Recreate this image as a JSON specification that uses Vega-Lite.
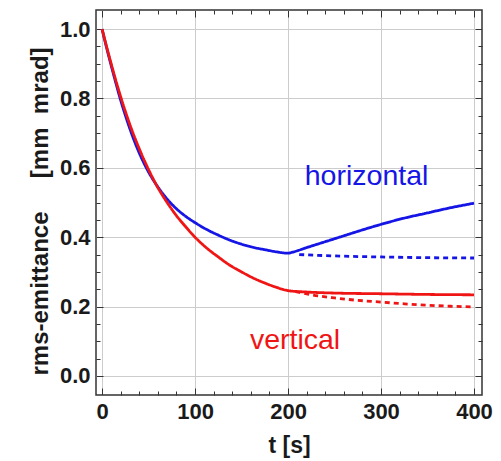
{
  "$schema": "https://vega.github.io/schema/vega-lite/v6.json",
  "width": 386,
  "height": 385,
  "autosize": "none",
  "padding": {"left": 96, "top": 10, "right": 19, "bottom": 66},
  "background": "white",
  "config": {
    "view": {"stroke": "#333333", "strokeWidth": 1.5},
    "font": "Liberation Sans"
  },
  "datasets": {
    "curves": [
      {"t": 0, "v": 1.0, "dir": "h", "style": "solid"},
      {"t": 5, "v": 0.945, "dir": "h", "style": "solid"},
      {"t": 10, "v": 0.893, "dir": "h", "style": "solid"},
      {"t": 15, "v": 0.843, "dir": "h", "style": "solid"},
      {"t": 20, "v": 0.795, "dir": "h", "style": "solid"},
      {"t": 25, "v": 0.752, "dir": "h", "style": "solid"},
      {"t": 30, "v": 0.712, "dir": "h", "style": "solid"},
      {"t": 40, "v": 0.643, "dir": "h", "style": "solid"},
      {"t": 50, "v": 0.588, "dir": "h", "style": "solid"},
      {"t": 60, "v": 0.545, "dir": "h", "style": "solid"},
      {"t": 70, "v": 0.51, "dir": "h", "style": "solid"},
      {"t": 80, "v": 0.482, "dir": "h", "style": "solid"},
      {"t": 90, "v": 0.46, "dir": "h", "style": "solid"},
      {"t": 100, "v": 0.442, "dir": "h", "style": "solid"},
      {"t": 112, "v": 0.423, "dir": "h", "style": "solid"},
      {"t": 125, "v": 0.406, "dir": "h", "style": "solid"},
      {"t": 137, "v": 0.392, "dir": "h", "style": "solid"},
      {"t": 150, "v": 0.38, "dir": "h", "style": "solid"},
      {"t": 162, "v": 0.371, "dir": "h", "style": "solid"},
      {"t": 175, "v": 0.364, "dir": "h", "style": "solid"},
      {"t": 187, "v": 0.358, "dir": "h", "style": "solid"},
      {"t": 200, "v": 0.354, "dir": "h", "style": "solid"},
      {"t": 205, "v": 0.357, "dir": "h", "style": "solid"},
      {"t": 220, "v": 0.37, "dir": "h", "style": "solid"},
      {"t": 240, "v": 0.387, "dir": "h", "style": "solid"},
      {"t": 260, "v": 0.404, "dir": "h", "style": "solid"},
      {"t": 280, "v": 0.421, "dir": "h", "style": "solid"},
      {"t": 300, "v": 0.437, "dir": "h", "style": "solid"},
      {"t": 325, "v": 0.455, "dir": "h", "style": "solid"},
      {"t": 350, "v": 0.47, "dir": "h", "style": "solid"},
      {"t": 375, "v": 0.485, "dir": "h", "style": "solid"},
      {"t": 400, "v": 0.498, "dir": "h", "style": "solid"},
      {"t": 212, "v": 0.35, "dir": "h", "style": "dashed"},
      {"t": 250, "v": 0.346, "dir": "h", "style": "dashed"},
      {"t": 300, "v": 0.343, "dir": "h", "style": "dashed"},
      {"t": 350, "v": 0.341, "dir": "h", "style": "dashed"},
      {"t": 400, "v": 0.34, "dir": "h", "style": "dashed"},
      {"t": 0, "v": 1.0, "dir": "v", "style": "solid"},
      {"t": 5, "v": 0.948, "dir": "v", "style": "solid"},
      {"t": 10, "v": 0.898, "dir": "v", "style": "solid"},
      {"t": 15, "v": 0.85, "dir": "v", "style": "solid"},
      {"t": 20, "v": 0.805, "dir": "v", "style": "solid"},
      {"t": 25, "v": 0.763, "dir": "v", "style": "solid"},
      {"t": 30, "v": 0.724, "dir": "v", "style": "solid"},
      {"t": 40, "v": 0.655, "dir": "v", "style": "solid"},
      {"t": 50, "v": 0.595, "dir": "v", "style": "solid"},
      {"t": 60, "v": 0.543, "dir": "v", "style": "solid"},
      {"t": 70, "v": 0.5, "dir": "v", "style": "solid"},
      {"t": 80, "v": 0.462, "dir": "v", "style": "solid"},
      {"t": 90, "v": 0.43, "dir": "v", "style": "solid"},
      {"t": 100, "v": 0.4, "dir": "v", "style": "solid"},
      {"t": 112, "v": 0.37, "dir": "v", "style": "solid"},
      {"t": 125, "v": 0.343, "dir": "v", "style": "solid"},
      {"t": 137, "v": 0.32, "dir": "v", "style": "solid"},
      {"t": 150, "v": 0.3, "dir": "v", "style": "solid"},
      {"t": 162, "v": 0.283, "dir": "v", "style": "solid"},
      {"t": 175, "v": 0.268, "dir": "v", "style": "solid"},
      {"t": 187, "v": 0.256, "dir": "v", "style": "solid"},
      {"t": 200, "v": 0.246, "dir": "v", "style": "solid"},
      {"t": 220, "v": 0.242, "dir": "v", "style": "solid"},
      {"t": 250, "v": 0.239, "dir": "v", "style": "solid"},
      {"t": 300, "v": 0.237, "dir": "v", "style": "solid"},
      {"t": 350, "v": 0.235, "dir": "v", "style": "solid"},
      {"t": 400, "v": 0.234, "dir": "v", "style": "solid"},
      {"t": 208, "v": 0.243, "dir": "v", "style": "dashed"},
      {"t": 225, "v": 0.234, "dir": "v", "style": "dashed"},
      {"t": 250, "v": 0.225, "dir": "v", "style": "dashed"},
      {"t": 275, "v": 0.218, "dir": "v", "style": "dashed"},
      {"t": 300, "v": 0.213, "dir": "v", "style": "dashed"},
      {"t": 325, "v": 0.208, "dir": "v", "style": "dashed"},
      {"t": 350, "v": 0.204, "dir": "v", "style": "dashed"},
      {"t": 375, "v": 0.201, "dir": "v", "style": "dashed"},
      {"t": 400, "v": 0.199, "dir": "v", "style": "dashed"}
    ],
    "labels": [
      {"t": 218, "v": 0.55, "dir": "h", "label": "horizontal"},
      {"t": 159, "v": 0.078, "dir": "v", "label": "vertical"}
    ]
  },
  "resolve": {"axis": {"x": "independent", "y": "independent"}},
  "layer": [
    {
      "data": {"name": "curves"},
      "mark": {"type": "line", "strokeWidth": 2.8, "interpolate": "monotone"},
      "encoding": {
        "x": {
          "field": "t", "type": "quantitative",
          "scale": {"domain": [-6.5, 408.6], "nice": false, "zero": false},
          "axis": {
            "orient": "bottom",
            "values": [0, 20, 40, 60, 80, 100, 120, 140, 160, 180, 200, 220, 240, 260, 280, 300, 320, 340, 360, 380, 400],
            "labelExpr": "datum.value % 100 === 0 ? datum.label : ''",
            "domain": false,
            "grid": true,
            "gridColor": "#cccccc",
            "gridWidth": 1,
            "gridOpacity": {"condition": {"test": "datum.value % 100 === 0", "value": 1}, "value": 0},
            "tickColor": "#333333",
            "tickWidth": 1,
            "tickSize": {"condition": {"test": "datum.value % 100 === 0", "value": -7}, "value": -4},
            "labelPadding": 13,
            "labelFont": "Liberation Sans",
            "labelFontSize": 22,
            "labelFontWeight": "bold",
            "labelColor": "#1a1a1a",
            "labelFlush": false,
            "labelOverlap": false,
            "title": "t [s]",
            "titleFont": "Liberation Sans",
            "titleFontSize": 23,
            "titleFontWeight": "bold",
            "titleColor": "#1a1a1a",
            "titlePadding": 9
          }
        },
        "y": {
          "field": "v", "type": "quantitative",
          "scale": {"domain": [-0.0548, 1.0548], "nice": false, "zero": false},
          "axis": {
            "orient": "left",
            "values": [0, 0.05, 0.1, 0.15, 0.2, 0.25, 0.3, 0.35, 0.4, 0.45, 0.5, 0.55, 0.6, 0.65, 0.7, 0.75, 0.8, 0.85, 0.9, 0.95, 1.0],
            "labelExpr": "abs(datum.value * 5 - round(datum.value * 5)) < 0.001 ? format(datum.value, '.1f') : ''",
            "domain": false,
            "grid": true,
            "gridColor": "#cccccc",
            "gridWidth": 1,
            "gridOpacity": {"condition": {"test": "abs(datum.value * 5 - round(datum.value * 5)) < 0.001", "value": 1}, "value": 0},
            "tickColor": "#333333",
            "tickWidth": 1,
            "tickSize": {"condition": {"test": "abs(datum.value * 5 - round(datum.value * 5)) < 0.001", "value": -7}, "value": -4},
            "labelPadding": 13,
            "labelFont": "Liberation Sans",
            "labelFontSize": 22,
            "labelFontWeight": "bold",
            "labelColor": "#1a1a1a",
            "labelFlush": false,
            "labelOverlap": false,
            "title": "rms-emittance\u00a0\u00a0\u00a0\u00a0\u00a0[mm\u00a0\u00a0mrad]",
            "titleFont": "Liberation Sans",
            "titleFontSize": 24,
            "titleFontWeight": "bold",
            "titleColor": "#1a1a1a",
            "titlePadding": 7,
            "titleY": 201
          }
        },
        "color": {
          "field": "dir", "type": "nominal",
          "scale": {"domain": ["h", "v"], "range": ["#1515e6", "#f01515"]},
          "legend": null
        },
        "strokeDash": {
          "field": "style", "type": "nominal",
          "scale": {"domain": ["solid", "dashed"], "range": [[1, 0], [5, 4]]},
          "legend": null
        },
        "detail": {"field": "style"}
      }
    },
    {
      "data": {"name": "labels"},
      "mark": {"type": "text", "align": "left", "baseline": "alphabetic", "font": "Liberation Sans", "fontSize": 28.5},
      "encoding": {
        "x": {
          "field": "t", "type": "quantitative",
          "axis": {
            "orient": "top",
            "values": [0, 20, 40, 60, 80, 100, 120, 140, 160, 180, 200, 220, 240, 260, 280, 300, 320, 340, 360, 380, 400],
            "labels": false,
            "domain": false,
            "grid": false,
            "tickColor": "#333333",
            "tickWidth": 1,
            "tickSize": {"condition": {"test": "datum.value % 100 === 0", "value": -7}, "value": -4},
            "title": null
          }
        },
        "y": {
          "field": "v", "type": "quantitative",
          "axis": {
            "orient": "right",
            "values": [0, 0.05, 0.1, 0.15, 0.2, 0.25, 0.3, 0.35, 0.4, 0.45, 0.5, 0.55, 0.6, 0.65, 0.7, 0.75, 0.8, 0.85, 0.9, 0.95, 1.0],
            "labels": false,
            "domain": false,
            "grid": false,
            "tickColor": "#333333",
            "tickWidth": 1,
            "tickSize": {"condition": {"test": "abs(datum.value * 5 - round(datum.value * 5)) < 0.001", "value": -7}, "value": -4},
            "title": null
          }
        },
        "text": {"field": "label"},
        "color": {
          "field": "dir", "type": "nominal",
          "scale": {"domain": ["h", "v"], "range": ["#0000ff", "#ff1a1a"]},
          "legend": null
        }
      }
    }
  ]
}
